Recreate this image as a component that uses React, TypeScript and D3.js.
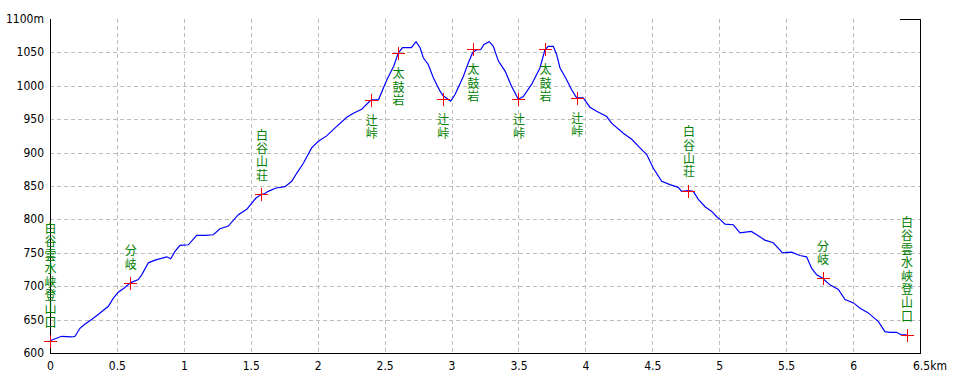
import React from "react";
import * as d3 from "d3";

const profileDist = [0, 0.01, 0.087, 0.162, 0.187, 0.224, 0.26, 0.324, 0.374, 0.436, 0.473, 0.51, 0.56, 0.6, 0.66, 0.685, 0.735, 0.784, 0.872, 0.902, 0.934, 0.971, 1.034, 1.096, 1.158, 1.22, 1.27, 1.332, 1.407, 1.47, 1.539, 1.582, 1.6, 1.63, 1.69, 1.756, 1.806, 1.843, 1.893, 1.955, 2.005, 2.067, 2.13, 2.217, 2.267, 2.329, 2.379, 2.4, 2.454, 2.517, 2.567, 2.602, 2.634, 2.7, 2.735, 2.765, 2.789, 2.826, 2.864, 2.914, 2.938, 2.993, 3.026, 3.088, 3.125, 3.158, 3.188, 3.217, 3.242, 3.282, 3.312, 3.35, 3.4, 3.449, 3.499, 3.536, 3.598, 3.661, 3.698, 3.723, 3.76, 3.785, 3.81, 3.86, 3.897, 3.935, 3.984, 4.034, 4.084, 4.159, 4.196, 4.283, 4.346, 4.408, 4.458, 4.507, 4.57, 4.632, 4.694, 4.719, 4.769, 4.806, 4.844, 4.894, 4.944, 4.981, 5.006, 5.043, 5.105, 5.155, 5.24, 5.28, 5.341, 5.404, 5.473, 5.541, 5.603, 5.653, 5.69, 5.728, 5.772, 5.827, 5.89, 5.94, 6.003, 6.052, 6.114, 6.189, 6.238, 6.276, 6.325, 6.362, 6.4];
const profileElev = [618, 619, 625, 624, 625, 637, 643, 652, 660, 670, 682, 691, 698, 705, 710, 717, 735, 739, 744, 741, 752, 761, 762, 776, 776, 777, 786, 790, 807, 815, 832, 838, 838, 842, 847, 849, 857, 869, 884, 907, 917, 925, 937, 953, 959, 965, 975, 979, 979, 1009, 1029, 1049, 1057, 1057, 1066, 1057, 1042, 1032, 1012, 992, 985, 977, 987, 1014, 1034, 1050, 1054, 1054, 1062, 1066, 1059, 1037, 1022, 999, 980, 984, 1002, 1027, 1054, 1059, 1059, 1047, 1027, 1009, 994, 982, 982, 968, 962, 954, 944, 929, 920, 907, 897, 877, 857, 852, 848, 842, 843, 842, 830, 819, 812, 804, 800, 793, 792, 780, 782, 777, 769, 765, 750, 751, 746, 744, 727, 717, 712, 702, 695, 680, 675, 667, 660, 647, 632, 631, 631, 627, 627];

const wpNames = ["白谷雲水峡登山口", "分岐", "白谷山荘", "辻峠", "太鼓岩", "辻峠", "太鼓岩", "辻峠", "太鼓岩", "辻峠", "白谷山荘", "分岐", "白谷雲水峡登山口"];
const wpDist = [0, 0.6, 1.58, 2.4, 2.6, 2.935, 3.158, 3.5, 3.698, 3.935, 4.77, 5.772, 6.4];
const wpElev = [618, 705, 838, 979, 1049, 980, 1055, 980, 1055, 982, 843, 712, 627];
const wpBelow = [false, false, false, true, true, true, true, true, true, true, false, false, false];

const xTicks = [0, 0.5, 1, 1.5, 2, 2.5, 3, 3.5, 4, 4.5, 5, 5.5, 6, 6.5];
const xTickLabels = ["0", "0.5", "1", "1.5", "2", "2.5", "3", "3.5", "4", "4.5", "5", "5.5", "6", "6.5km"];
const yTicks = [600, 650, 700, 750, 800, 850, 900, 950, 1000, 1050, 1100];
const yTickLabels = ["600", "650", "700", "750", "800", "850", "900", "950", "1000", "1050", "1100m"];

const W = 960;
const H = 384;
const numFont = "'Liberation Sans Narrow', 'DejaVu Sans Condensed', 'Liberation Sans', sans-serif";
const cjkFont = "'Noto Sans CJK JP', sans-serif";

export default function App() {
  const x = d3.scaleLinear().domain([0, 6.5]).range([50, 920]);
  const y = d3.scaleLinear().domain([600, 1100]).range([353, 19]);
  const px = (v: number) => Math.round(x(v)) + 0.5;
  const py = (v: number) => Math.round(y(v)) + 0.5;

  const pts: [number, number][] = profileDist.map((d, i) => [d, profileElev[i]]);
  const line = d3
    .line<[number, number]>()
    .x((d) => x(d[0]))
    .y((d) => y(d[1]));

  const step = 13.4;

  return (
    <svg
      width={W}
      height={H}
      style={{ position: "absolute", left: 0, top: 0, background: "#fff" }}
    >
      <rect x={0} y={0} width={W} height={H} fill="#fff" />
      {/* grid */}
      <g stroke="#bdbdbd" strokeWidth={1} strokeDasharray="4,3" shapeRendering="crispEdges">
        {xTicks.slice(1, -1).map((t) => (
          <line key={"gx" + t} x1={px(t)} x2={px(t)} y1={y(1100)} y2={y(600)} />
        ))}
        {yTicks.slice(1, -1).map((t) => (
          <line key={"gy" + t} x1={x(0)} x2={x(6.5)} y1={py(t)} y2={py(t)} />
        ))}
      </g>
      {/* frame */}
      <g stroke="#000" strokeWidth={1.5} shapeRendering="crispEdges">
        <line x1={px(0)} x2={px(0)} y1={y(1100)} y2={y(600) + 1} />
        <line x1={x(0)} x2={x(6.5) + 1} y1={py(600)} y2={py(600)} />
        <line x1={px(6.5)} x2={px(6.5)} y1={y(1100)} y2={y(600) + 1} />
        <line x1={900} x2={x(6.5) + 1} y1={py(1100)} y2={py(1100)} />
      </g>
      {/* profile */}
      <path d={line(pts) || ""} fill="none" stroke="#0000ff" strokeWidth={1.2} />
      {/* markers */}
      <g stroke="#ff0000" strokeWidth={1.5} shapeRendering="crispEdges">
        {wpDist.map((d, i) => {
          const cx = Math.round(x(d));
          const cy = Math.round(y(wpElev[i]));
          return (
            <g key={"m" + i}>
              <line x1={cx - 6} x2={cx + 7} y1={cy + 0.5} y2={cy + 0.5} />
              <line x1={cx + 0.5} x2={cx + 0.5} y1={cy - 6} y2={cy + 7} />
            </g>
          );
        })}
      </g>
      {/* labels: one character per row, stacked vertically */}
      <g fill="#008000" fontFamily={cjkFont} fontSize={12} textAnchor="middle">
        {wpNames.map((name, i) => {
          const cx = x(wpDist[i]) + 0.5;
          const cy = y(wpElev[i]);
          const chars = Array.from(name);
          const n = chars.length;
          return chars.map((c, j) => {
            const ty = wpBelow[i]
              ? cy + 13 + (j + 0.5) * step
              : cy - 13 - (n - j - 0.5) * step;
            return (
              <text key={"l" + i + "_" + j} x={cx} y={ty} dominantBaseline="central">
                {c}
              </text>
            );
          });
        })}
      </g>
      {/* y tick labels */}
      <g fontFamily={numFont} fontSize={12} fill="#000" textAnchor="end">
        {yTicks.map((t, i) => (
          <text key={"yt" + t} x={44} y={y(t)} dominantBaseline="central">
            {yTickLabels[i]}
          </text>
        ))}
      </g>
      {/* x tick labels */}
      <g fontFamily={numFont} fontSize={12} fill="#000">
        {xTicks.map((t, i) => (
          <text
            key={"xt" + t}
            x={i === xTicks.length - 1 ? x(t) - 7 : x(t) + 0.5}
            y={366}
            dominantBaseline="central"
            textAnchor={i === xTicks.length - 1 ? "start" : "middle"}
          >
            {xTickLabels[i]}
          </text>
        ))}
      </g>
    </svg>
  );
}
